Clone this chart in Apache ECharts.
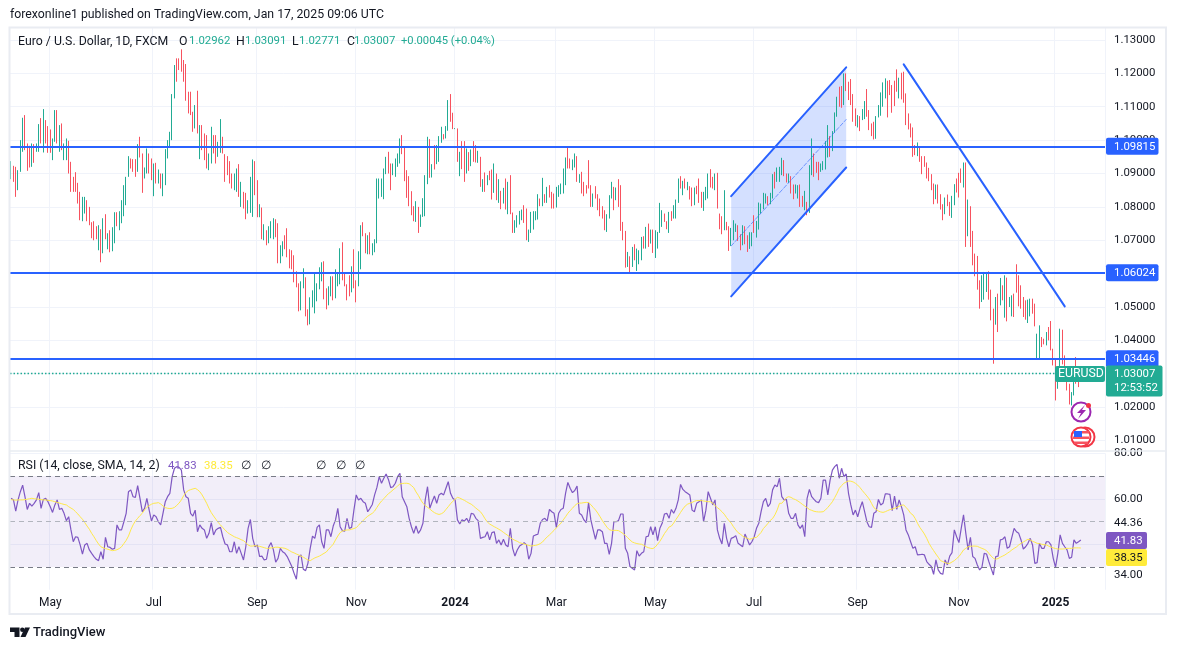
<!DOCTYPE html>
<html>
<head>
<meta charset="utf-8">
<script src="https://cdn.jsdelivr.net/npm/echarts@6/dist/echarts.min.js"></script>
<style>
html, body { margin: 0; padding: 0; background: #fff; }
#chart { width: 1177px; height: 650px; }
</style>
</head>
<body>
<div id="chart"></div>
<script>
const highPips = [
10937,10923,10920,10910,11000,11067,11075,10990,10983,10990,
10988,10990,11048,11066,11093,11060,11042,11032,11005,11090,
11090,11045,11050,10990,11005,10998,10935,10890,10904,10872,
10845,10830,10830,10820,10800,10754,10757,10742,10745,10733,
10766,10778,10721,10730,10739,10784,10784,10787,10820,10865,
10890,10952,10945,10943,10943,10988,11010,10960,10918,10975,
10960,10945,10930,10932,10912,10900,10900,10973,11000,11025,
11138,11225,11245,11245,11272,11240,11228,11145,11145,11085,
11105,11148,11045,11045,11020,11015,10960,11040,11015,11015,
10995,11063,11010,10958,10952,10937,10900,10900,10915,10928,
10875,10845,10842,10820,10890,10942,10937,10880,10808,10798,
10748,10730,10742,10757,10766,10763,10751,10685,10697,10715,
10736,10673,10670,10655,10607,10571,10577,10616,10589,10493,
10529,10550,10600,10571,10619,10634,10637,10556,10562,10592,
10592,10613,10601,10676,10694,10604,10568,10595,10622,10673,
10580,10667,10745,10754,10721,10715,10724,10691,10703,10885,
10885,10885,10915,10950,10965,10930,10930,10945,10960,11005,
11015,10980,10910,10892,10847,10802,10817,10800,10777,10826,
10895,11010,11003,10928,10985,10985,11012,11040,11018,11042,
11120,11138,11082,11036,11035,10965,10997,10997,10975,10964,
10972,10997,10985,10968,10950,10883,10903,10895,10908,10912,
10930,10900,10883,10848,10857,10885,10875,10895,10783,10760,
10775,10788,10792,10805,10795,10732,10785,10787,10787,10838,
10825,10887,10838,10860,10865,10845,10840,10860,10865,10870,
10915,10948,10977,10945,10942,10960,10952,10898,10905,10875,
10865,10940,10865,10840,10862,10838,10825,10802,10790,10778,
10835,10875,10860,10858,10883,10865,10755,10728,10665,10652,
10680,10688,10675,10670,10710,10712,10740,10750,10732,10732,
10730,10725,10812,10790,10780,10757,10785,10787,10805,10822,
10885,10892,10878,10885,10875,10862,10858,10858,10863,10885,
10845,10845,10860,10900,10913,10890,10900,10902,10780,10772,
10850,10755,10742,10737,10760,10750,10745,10718,10745,10742,
10715,10724,10724,10775,10758,10813,10810,10842,10840,10832,
10842,10898,10905,10918,10920,10947,10940,10900,10900,10892,
10867,10867,10865,10867,10833,10848,10815,10925,11005,10960,
10935,10935,10930,10937,10997,11045,11012,11027,11083,11130,
11160,11162,11200,11200,11175,11183,11138,11095,11075,11072,
11093,11117,11153,11090,11050,11055,11072,11105,11143,11173,
11185,11178,11180,11165,11178,11212,11187,11202,11205,11140,
11080,11050,11038,10985,10993,10980,10952,10952,10933,10917,
10898,10870,10867,10867,10838,10808,10828,10837,10815,10833,
10868,10885,10902,10915,10933,10933,10822,10802,10728,10660,
10653,10580,10595,10605,10605,10607,10552,10495,10530,10540,
10587,10565,10595,10588,10530,10535,10540,10628,10595,10565,
10530,10520,10522,10525,10525,10510,10420,10445,10410,10405,
10425,10440,10458,10375,10345,10315,10435,10432,10355,10320,
10270,10245,10275,10350,10305,10309];
const lowPips = [
10883,10875,10830,10850,10905,10965,10970,10908,10918,10920,
10932,10965,10965,10990,10963,10990,10962,10962,10940,10995,
10990,10965,10970,10940,10940,10900,10845,10845,10845,10810,
10760,10757,10780,10757,10745,10706,10700,10703,10670,10634,
10661,10703,10673,10664,10667,10691,10742,10730,10751,10772,
10805,10890,10915,10905,10890,10905,10948,10842,10885,10900,
10900,10880,10832,10870,10870,10855,10832,10865,10945,10980,
11000,11125,11175,11210,11205,11175,11118,11080,11075,11025,
11035,11020,10943,10970,10940,10915,10910,10930,10960,10930,
10950,10962,10960,10875,10895,10870,10855,10850,10845,10830,
10800,10795,10763,10780,10782,10770,10835,10769,10769,10703,
10700,10685,10691,10706,10703,10709,10631,10631,10652,10673,
10649,10616,10613,10574,10559,10487,10490,10556,10472,10445,
10448,10499,10481,10517,10553,10577,10523,10493,10505,10532,
10520,10526,10562,10568,10580,10562,10520,10532,10544,10556,
10514,10562,10613,10712,10661,10658,10658,10655,10664,10691,
10825,10830,10823,10898,10900,10850,10895,10890,10920,10930,
10958,10877,10827,10802,10775,10757,10755,10722,10740,10770,
10772,10868,10887,10888,10912,10928,10935,10992,11002,11005,
11028,11055,11033,11033,10935,10892,10913,10875,10900,10908,
10922,10935,10933,10932,10860,10845,10845,10865,10880,10822,
10842,10820,10812,10793,10810,10792,10778,10778,10722,10722,
10738,10747,10760,10752,10700,10695,10722,10732,10760,10762,
10802,10802,10812,10812,10828,10795,10795,10798,10830,10838,
10840,10865,10915,10915,10910,10918,10875,10872,10840,10832,
10840,10855,10800,10800,10825,10790,10772,10765,10730,10725,
10765,10825,10790,10820,10800,10728,10700,10618,10620,10600,
10620,10640,10608,10628,10640,10675,10675,10680,10690,10662,
10647,10675,10722,10740,10755,10733,10722,10758,10765,10765,
10812,10855,10835,10855,10850,10822,10802,10805,10838,10812,
10797,10788,10820,10825,10858,10855,10850,10795,10733,10718,
10730,10730,10668,10683,10700,10725,10698,10670,10685,10688,
10665,10674,10682,10722,10708,10732,10780,10793,10810,10805,
10808,10825,10855,10875,10875,10895,10892,10873,10872,10840,
10823,10840,10825,10800,10800,10790,10775,10782,10895,10890,
10902,10880,10905,10910,10912,10948,10950,10967,11022,11070,
11100,11097,11105,11147,11120,11105,11055,11042,11038,11027,
11060,11063,11070,11030,11012,11002,11004,11068,11073,11100,
11125,11068,11135,11082,11102,11145,11125,11122,11112,11045,
11032,11008,10950,10955,10952,10935,10898,10920,10885,10877,
10850,10808,10823,10810,10792,10760,10778,10802,10773,10767,
10805,10843,10828,10872,10858,10680,10712,10680,10625,10592,
10552,10495,10515,10522,10545,10522,10460,10330,10447,10425,
10505,10520,10468,10457,10500,10472,10470,10543,10502,10495,
10470,10462,10452,10472,10480,10442,10345,10342,10380,10388,
10385,10400,10370,10325,10220,10255,10318,10328,10300,10250,
10208,10205,10235,10270,10260,10277];
const barDirs = [
"grrgggrrrg","rggrgrrrgg","rgrggrrrrr","rggrrrrrgr","grgrggrggg",
"ggrrrgrrgg","rrgrgrgggg","ggrrrrrrrr","grgrrrggrr","ggrrrrrggr",
"grrgggrrgr","grgggrrggr","rrrrrrggrr","ggggggrrgg","rgggrrrrgr",
"rggrrgrggg","ggggrrgggg",
"rrrrrrgrgg","ggrgrgggrg","grrgrgrrgr","grrgrgrgrr","grgrgrgrrg",
"gggrrggggg","rgrgrrrggg","ggrrggrgrr","rrrgrrrrrg","ggrgrrrrgr",
"grgggrgrgr","ggggrrgrgg","grgrgrrgrr","rgggrrgrrr",
"grrgggrrgr","rggrgggggr","ggrgggrrgr","rggrrgrggr","rrggggrggg",
"rrgrrrrrgr","ggrrrrgggg","grrrrrgrrr","rrrrgrrrrr","rrgrrrgrrg",
"grrrgrgrrr","rrgggrrrgr","grgrggrrrr","rrggrrggrr","grrrrggrrr",
"rggrrg"
].join("");
const tickIndex = [17, 62, 107, 150, 193, 237, 280, 323, 368, 412, 454];
const tickLabels = ["May", "Jul", "Sep", "Nov", "2024", "Mar", "May", "Jul", "Sep", "Nov", "2025"];
const rsiValues = [
60.2,59.5,54.6,59.5,63.1,66.0,60.9,55.3,58.0,56.8,
58.0,59.5,62.7,55.8,59.7,60.2,58.7,56.5,54.0,57.3,
59.5,55.3,55.8,53.6,50.4,52.1,46.3,41.1,43.3,43.0,
39.7,35.7,39.7,40.4,37.5,36.0,34.6,33.4,32.8,36.7,
33.4,43.0,38.9,38.6,37.8,38.2,48.5,46.3,46.3,49.9,
53.6,63.1,63.9,60.9,60.6,65.8,60.2,54.3,55.8,60.2,
55.0,50.2,52.9,52.1,49.9,48.5,53.6,58.7,60.9,62.4,
69.7,73.4,74.1,73.8,72.6,63.9,60.9,60.2,53.6,52.4,
55.0,45.5,48.5,47.0,46.3,42.6,44.8,49.5,44.1,46.3,
47.0,47.4,43.3,40.1,39.7,36.7,36.7,41.1,36.0,38.9,
36.0,33.1,38.9,47.0,50.9,42.6,38.9,39.7,34.6,34.8,
33.1,33.4,38.9,40.7,37.5,32.1,33.8,38.2,36.7,36.0,
34.6,32.4,30.2,27.2,24.6,34.6,35.3,29.0,28.4,31.6,
38.2,43.6,42.6,47.4,48.5,41.1,38.2,46.3,46.3,43.3,
48.0,50.7,55.8,47.7,46.0,45.8,51.4,47.0,47.4,55.0,
61.7,59.5,60.2,58.7,58.0,54.3,55.8,57.5,61.7,65.0,
69.7,66.8,69.0,70.9,68.5,64.9,65.3,66.8,69.7,71.2,
60.9,58.7,56.5,51.4,47.7,44.8,48.0,44.8,46.3,49.2,
59.5,65.3,55.8,58.7,61.2,58.0,61.7,62.4,61.7,64.6,
67.5,62.4,60.2,59.5,50.7,48.9,50.7,50.2,51.4,49.5,
53.6,53.3,51.4,50.4,42.6,43.0,43.3,45.5,41.9,45.1,
45.5,40.4,41.9,39.7,42.2,39.7,38.9,47.0,38.2,34.8,
37.5,39.2,39.9,40.7,39.7,33.4,36.0,43.6,44.1,44.4,
49.2,50.9,51.4,50.2,55.3,54.3,53.6,47.4,53.6,55.3,
55.8,62.4,67.2,64.6,62.7,63.6,65.6,53.6,52.9,50.7,
49.5,58.3,50.7,46.3,42.2,46.3,46.3,45.5,40.4,40.4,
35.6,40.4,49.9,49.9,50.4,53.3,53.3,38.2,36.0,30.2,
29.4,28.7,37.2,34.8,36.0,36.7,43.3,43.6,47.7,44.1,
47.7,41.6,47.0,49.2,53.3,53.6,51.4,55.3,53.6,55.8,
59.5,66.3,64.1,63.1,62.4,61.7,55.0,54.3,58.0,58.7,
59.5,49.9,55.0,63.1,60.2,57.3,59.5,46.3,42.6,40.1,
49.2,42.6,38.9,42.6,43.0,43.8,40.4,39.7,38.9,44.5,
42.2,39.7,41.1,43.3,47.0,49.2,54.3,58.7,60.2,56.5,
58.0,63.9,66.0,65.3,69.0,
60.9,59.5,59.7,53.6,51.4,51.4,53.6,48.5,47.0,48.5,
43.3,60.2,64.1,60.9,59.7,58.7,58.3,60.2,68.2,68.2,
61.7,68.2,72.6,74.1,75.1,69.0,73.4,69.7,70.9,62.4,
57.3,52.9,55.0,52.1,55.8,58.7,54.3,49.9,47.7,47.4,
53.6,54.3,59.7,57.3,58.0,62.1,62.1,61.9,54.8,61.2,
55.3,59.5,56.5,52.9,46.3,44.1,41.1,38.2,38.9,35.3,
35.4,35.6,35.3,32.4,31.2,30.2,26.8,33.1,28.7,27.2,
26.8,33.1,30.9,34.8,36.3,46.3,43.3,40.7,47.0,52.9,
44.8,37.5,43.0,34.6,33.8,30.9,28.7,29.9,36.0,35.7,
32.4,29.4,26.5,34.6,34.8,41.9,42.2,43.3,38.2,38.9,
43.0,47.0,45.5,44.8,41.9,37.9,38.9,40.4,42.6,39.7,
31.6,31.9,40.4,38.2,38.2,41.1,41.1,39.7,33.8,29.9,
36.0,44.1,40.4,38.9,37.5,33.8,34.3,41.9,40.4,41.1,
41.83];
const smaValues = [
59.6,59.5,59.4,
59.5,59.5,59.5,59.6,59.8,60.0,60.2,60.0,59.9,59.8,
59.6,59.5,59.5,59.3,59.2,59.0,58.7,58.4,58.1,57.8,
57.5,57.3,56.5,55.9,55.3,54.3,53.3,52.1,51.0,49.5,
48.0,46.6,44.8,43.3,41.6,40.1,38.9,38.4,38.1,37.8,
37.5,37.2,37.3,37.6,38.1,38.9,40.3,41.7,43.6,46.3,
48.5,50.2,51.4,52.6,53.6,55.1,56.2,57.0,57.6,58.0,
58.1,58.3,57.7,56.8,56.1,55.8,55.7,55.8,56.2,57.1,
58.1,59.5,61.4,62.8,63.6,64.0,64.3,64.6,64.0,63.1,
61.7,59.9,58.0,55.8,53.9,52.4,51.0,49.5,48.5,47.3,
46.3,45.2,44.5,43.9,43.3,42.9,42.5,42.0,41.6,40.7,
39.7,39.2,39.2,39.4,39.2,39.1,38.8,38.5,38.2,38.2,
38.4,38.5,38.7,38.7,38.5,38.4,38.2,37.8,37.2,36.6,
36.2,35.7,35.3,34.8,34.3,33.7,33.1,32.8,33.4,34.0,
34.4,34.8,35.4,36.0,36.6,37.8,38.9,40.0,41.9,43.6,
45.1,45.8,46.1,46.3,46.3,46.6,46.9,47.3,48.3,49.5,
50.4,51.4,52.3,53.0,53.6,54.6,56.2,57.7,59.0,60.0,
61.2,62.2,63.0,63.9,64.7,65.6,66.5,
66.7,66.8,
66.8,66.6,65.8,64.9,63.0,61.5,59.6,58.0,57.0,56.2,
55.5,54.6,53.9,53.4,53.1,53.4,54.0,55.3,56.5,57.8,
58.9,59.8,60.6,60.3,59.8,59.3,58.7,58.1,57.6,56.8,
55.9,55.1,54.3,52.9,51.2,49.8,48.9,48.3,47.7,47.2,
46.6,46.0,45.2,44.5,43.8,42.9,42.3,41.7,41.3,40.7,
40.4,40.1,39.8,39.5,39.2,39.4,39.5,39.8,40.3,41.0,
42.2,43.2,44.1,45.1,46.1,47.2,48.2,49.3,50.7,52.1,
53.6,54.8,55.8,57.0,57.8,58.1,58.1,58.3,58.4,58.3,
57.4,56.2,55.1,53.7,52.1,50.4,48.9,47.5,46.4,46.1,
46.1,46.1,46.0,45.4,44.7,43.9,42.9,41.9,41.0,40.6,
40.3,40.1,40.0,39.5,38.9,38.5,38.2,38.1,38.8,40.0,
41.3,42.9,44.7,46.1,47.6,48.0,49.3,50.9,
52.4,54.0,55.5,56.8,57.6,58.0,58.4,58.9,59.2,
59.2,59.2,59.0,58.9,58.7,58.7,58.0,57.0,56.1,55.3,
54.3,53.2,51.7,50.4,49.3,47.7,46.3,45.1,44.4,43.6,
43.0,42.6,42.2,42.5,42.9,43.0,44.1,45.2,46.9,48.0,
49.2,50.5,51.3,52.9,55.1,58.0,
58.0,59.2,60.5,60.9,60.6,60.0,59.6,59.0,58.3,57.5,
56.8,56.1,55.3,54.9,54.5,54.3,54.2,54.2,54.3,55.1,
56.2,57.4,58.7,60.5,62.4,64.6,65.8,66.8,67.4,67.8,
67.7,67.4,66.8,66.0,64.9,63.6,62.4,61.2,59.9,58.0,
56.1,55.3,54.6,54.2,54.0,54.3,54.8,55.2,55.5,55.8,
56.2,56.7,57.1,57.3,56.2,55.1,53.6,52.9,51.3,49.2,
47.4,46.0,44.5,42.6,40.4,38.7,37.2,35.7,34.3,32.8,
32.4,31.9,31.6,31.6,32.2,32.8,33.7,34.6,36.0,37.5,
38.2,38.9,39.1,39.2,39.2,39.1,38.6,38.2,37.8,37.2,
36.0,34.8,33.8,33.4,33.7,34.3,34.8,35.3,36.0,36.7,
37.5,38.2,38.8,39.7,40.4,41.0,41.6,42.2,41.9,41.3,
40.9,40.4,40.3,40.0,39.8,39.7,39.2,38.8,38.4,38.1,
37.9,37.9,37.9,38.0,38.2,38.2,38.2,38.4,38.4,38.4,38.35];

const levels = [1.09815, 1.06024, 1.03446];
const lastPrice = 1.03007;
const channelIndex = [313, 363];
const channelUpper = [1.0832, 1.1218];
const channelMiddle = [1.0683, 1.1062];
const channelLower = [1.0532, 1.0918];
const downIndex = [388, 458];
const downTrend = [1.1227, 1.0502];
const rsiGuides = [70, 50, 30];
const rsiAxisLabels = { 80: "80.00", 60: "60.00" };

const GREEN = "#22ab94", RED = "#f7525f", BLUE = "#2962ff", PURPLE = "#7e57c2", YELLOW = "#ffeb3b";
const GRID = "#f0f3fa", TEXT = "#131722", FONT = "Roboto, sans-serif";
const SLOTS = 476;
const NUM_FONT = "11.4px " + FONT, WORD_FONT = "12.3px " + FONT;

const categories = Array.from({ length: SLOTS }, (_, i) => {
    const at = tickIndex.indexOf(i);
    return at >= 0 ? tickLabels[at] : "";
});
const candles = highPips.map((h, i) => {
    const hi = h / 10000, lo = lowPips[i] / 10000;
    return barDirs[i] === "g" ? [lo, hi, lo, hi] : [hi, lo, lo, hi];
});
const isTick = (i) => tickIndex.includes(i);
const pairs = (xs, ys) => xs.map((x, i) => [x, ys[i]]);

const baseX = (gridIndex, extra) => Object.assign({
    type: "category", gridIndex, data: categories, boundaryGap: true,
    axisLine: { show: false }, axisTick: { show: false }, axisLabel: { show: false },
    splitLine: { show: false },
}, extra);
const trendLine = (data, style) => ({
    type: "line", xAxisIndex: 1, yAxisIndex: 1, data, symbol: "none", silent: true, z: 5,
    lineStyle: Object.assign({ color: BLUE, width: 2, cap: "round" }, style),
});

const chart = echarts.init(document.getElementById("chart"));
chart.setOption({
    animation: false,
    backgroundColor: "#fff",
    grid: [
        { left: 10, width: 1095, top: 27, height: 423 },
        { left: 10, width: 1095, top: 40, height: 400.5 },
        { left: 10, width: 1095, top: 453.25, height: 136.5 },
    ],
    xAxis: [
        baseX(0, { splitLine: { show: true, interval: isTick, lineStyle: { color: GRID, width: 1 } } }),
        baseX(1),
        baseX(2, {
            splitLine: { show: true, interval: isTick, lineStyle: { color: GRID, width: 1 } },
            axisLabel: {
                show: true, interval: isTick, margin: 7, fontFamily: FONT, fontSize: 12, color: TEXT,
                formatter: (v) => (/^20/.test(v) ? "{b|" + v + "}" : v),
                rich: { b: { fontFamily: FONT, fontSize: 12, fontWeight: "bold", color: TEXT } },
            },
        }),
    ],
    yAxis: [
        { type: "value", gridIndex: 0, min: 0, max: 1, show: false },
        {
            type: "value", gridIndex: 1, position: "right", min: 1.01, max: 1.13, interval: 0.01,
            axisLine: { show: false }, axisTick: { show: false },
            axisLabel: { margin: 9, padding: [3, 0, 0, 0], fontFamily: FONT, fontSize: 11.4, color: TEXT, formatter: (v) => v.toFixed(5) },
            splitLine: { lineStyle: { color: GRID, width: 1 } },
        },
        {
            type: "value", gridIndex: 2, position: "right", min: 20, max: 80, interval: 20,
            axisLine: { show: false }, axisTick: { show: false },
            axisLabel: { margin: 9, padding: [3, 0, 0, 0], fontFamily: FONT, fontSize: 11.4, color: TEXT, formatter: (v) => rsiAxisLabels[v] || "" },
            splitLine: { showMinLine: false, lineStyle: { color: GRID, width: 1 } },
        },
    ],
    series: [
        {
            type: "custom", xAxisIndex: 1, yAxisIndex: 1, data: [0], silent: true, z: 1, clip: false,
            renderItem: (params, api) => ({
                type: "polygon",
                shape: {
                    points: [
                        api.coord([channelIndex[0], channelUpper[0]]),
                        api.coord([channelIndex[1], channelUpper[1]]),
                        api.coord([channelIndex[1], channelLower[1]]),
                        api.coord([channelIndex[0], channelLower[0]]),
                    ],
                },
                style: { fill: "rgba(41,98,255,0.2)" },
            }),
        },
        {
            type: "candlestick", xAxisIndex: 1, yAxisIndex: 1, data: candles, barWidth: 0.1, silent: true, z: 3,
            itemStyle: { color: GREEN, color0: RED, borderColor: GREEN, borderColor0: RED, borderWidth: 1 },
            markLine: {
                silent: true, symbol: "none", animation: false, label: { show: false }, precision: 5,
                data: levels.map((v) => ({ yAxis: v, lineStyle: { color: BLUE, width: 2, type: "solid" } }))
                    .concat([{ yAxis: lastPrice, lineStyle: { color: GREEN, width: 1.3, type: [1.5, 2] } }]),
            },
        },
        trendLine(pairs(channelIndex, channelUpper), {}),
        trendLine(pairs(channelIndex, channelLower), {}),
        trendLine(pairs(channelIndex, channelMiddle), { width: 1, type: "dashed", opacity: 0.6 }),
        trendLine(pairs(downIndex, downTrend), {}),
        {
            type: "line", xAxisIndex: 2, yAxisIndex: 2, data: rsiValues, symbol: "none", silent: true, z: 4,
            lineStyle: { color: PURPLE, width: 1.2 },
            markArea: {
                silent: true, animation: false,
                itemStyle: { color: "rgba(126,87,194,0.1)" },
                data: [[{ yAxis: rsiGuides[0] }, { yAxis: rsiGuides[2] }]],
            },
            markLine: {
                silent: true, symbol: "none", animation: false, label: { show: false },
                lineStyle: { color: "#787b86", width: 1, type: [5, 4] },
                data: rsiGuides.map((v) => ({ yAxis: v, lineStyle: v === 50 ? { color: "#b2b5be" } : undefined })),
            },
        },
        {
            type: "line", xAxisIndex: 2, yAxisIndex: 2, data: smaValues, symbol: "none", silent: true, z: 4,
            lineStyle: { color: "#ffe94a", width: 1 },
        },
    ],
});

const label = (x, y, text, fill, font) => ({
    type: "text", x, y, z: 60, silent: true,
    style: { text, fill: fill || TEXT, font: font || WORD_FONT, verticalAlign: "middle" },
});
const box = (x, y, w, h, fill, r, z) => ({
    type: "rect", z: z || 50, silent: true, shape: { x, y, width: w, height: h, r: r === undefined ? 2 : r }, style: { fill },
});
const priceY = (v) => chart.convertToPixel({ yAxisIndex: 1 }, v);

const graphics = [
    { type: "rect", z: 40, silent: true, shape: { x: 9.5, y: 27.5, width: 1156.5, height: 586.5 }, style: { fill: "none", stroke: "#e9ecf2", lineWidth: 2 } },
    { type: "line", z: 40, silent: true, shape: { x1: 10, y1: 451, x2: 1166, y2: 451 }, style: { stroke: "#e9ecf2", lineWidth: 1.5 } },
    label(10, 15, "forexonline1 published on TradingView.com, Jan 17, 2025 09:06 UTC"),
    label(18, 41.5, "Euro / U.S. Dollar, 1D, FXCM"),
    label(179, 41.5, "O"), label(189, 41.5, "1.02962", GREEN, NUM_FONT),
    label(236, 41.5, "H"), label(245, 41.5, "1.03091", GREEN, NUM_FONT),
    label(292, 41.5, "L"), label(299, 41.5, "1.02771", GREEN, NUM_FONT),
    label(347, 41.5, "C"), label(354, 41.5, "1.03007", GREEN, NUM_FONT),
    label(401, 41.5, "+0.00045 (+0.04%)", GREEN, "11.2px " + FONT),
    label(18, 466, "RSI (14, close, SMA, 14, 2)"),
    label(168, 466, "41.83", PURPLE, NUM_FONT), label(204, 466, "38.35", YELLOW, NUM_FONT),
    label(241, 466, "∅"), label(261, 466, "∅"), label(316, 466, "∅"), label(336, 466, "∅"), label(355, 466, "∅"),
    label(1114, 523.5, "44.36", TEXT, NUM_FONT), label(1114, 575, "34.00", TEXT, NUM_FONT),
];
levels.forEach((v) => {
    const y = priceY(v);
    graphics.push(box(1106, y - 8.5, 52.5, 17, BLUE), label(1114, y + 0.5, v.toFixed(5), "#fff", NUM_FONT));
});
const lastY = priceY(lastPrice);
graphics.push(
    box(1055, lastY - 7.5, 50, 16, GREEN),
    label(1058, lastY + 0.5, "EURUSD", "#fff"),
    box(1106, lastY - 8, 56.5, 31, GREEN),
    label(1114, lastY + 1, lastPrice.toFixed(5), "#fff", NUM_FONT),
    label(1114, lastY + 15, "12:53:52", "#fff", NUM_FONT),
    box(1106, 532, 41, 17, PURPLE),
    label(1114, 541, "41.83", "#fff", NUM_FONT),
    box(1106, 549, 41, 17, YELLOW),
    label(1114, 558, "38.35", TEXT, NUM_FONT),
    // event markers under the last bars
    { type: "circle", z: 55, silent: true, shape: { cx: 1081, cy: 412, r: 9.5 }, style: { fill: "#fff", stroke: "#9c27b0", lineWidth: 2 } },
    { type: "polygon", z: 56, silent: true, shape: { points: [[1085, 405], [1077, 413], [1081, 413], [1078, 419], [1086, 410], [1082, 410]] }, style: { fill: "#9c27b0" } },
    { type: "circle", z: 56, silent: true, shape: { cx: 1088.5, cy: 405.5, r: 2.5 }, style: { fill: "#f23645" } },
    { type: "circle", z: 55, silent: true, shape: { cx: 1085, cy: 437, r: 9.5 }, style: { fill: "#fff", stroke: "#f23645", lineWidth: 2 } },
    { type: "circle", z: 55, silent: true, shape: { cx: 1081, cy: 437, r: 9.5 }, style: { fill: "#fff", stroke: "#f23645", lineWidth: 2 } },
    box(1073, 431, 16, 2.5, "#f7525f", 0, 57), box(1073, 436.5, 16, 2.5, "#f7525f", 0, 57), box(1074, 441.5, 14, 2.5, "#f7525f", 0, 57),
    box(1074, 431, 8, 6, "#2962ff", 0, 58),
    // logo
    { type: "polygon", z: 55, silent: true, shape: { points: [[10, 627.5], [19.5, 627.5], [19.5, 637], [14.5, 637], [14.5, 632], [10, 632]] }, style: { fill: TEXT } },
    { type: "circle", z: 55, silent: true, shape: { cx: 22.3, cy: 629.7, r: 2.2 }, style: { fill: TEXT } },
    { type: "polygon", z: 55, silent: true, shape: { points: [[25, 627.5], [30, 627.5], [25.5, 637], [20.5, 637]] }, style: { fill: TEXT } },
    label(33, 632.5, "TradingView", TEXT, "500 13px " + FONT)
);
chart.setOption({ graphic: graphics });
</script>
</body>
</html>
